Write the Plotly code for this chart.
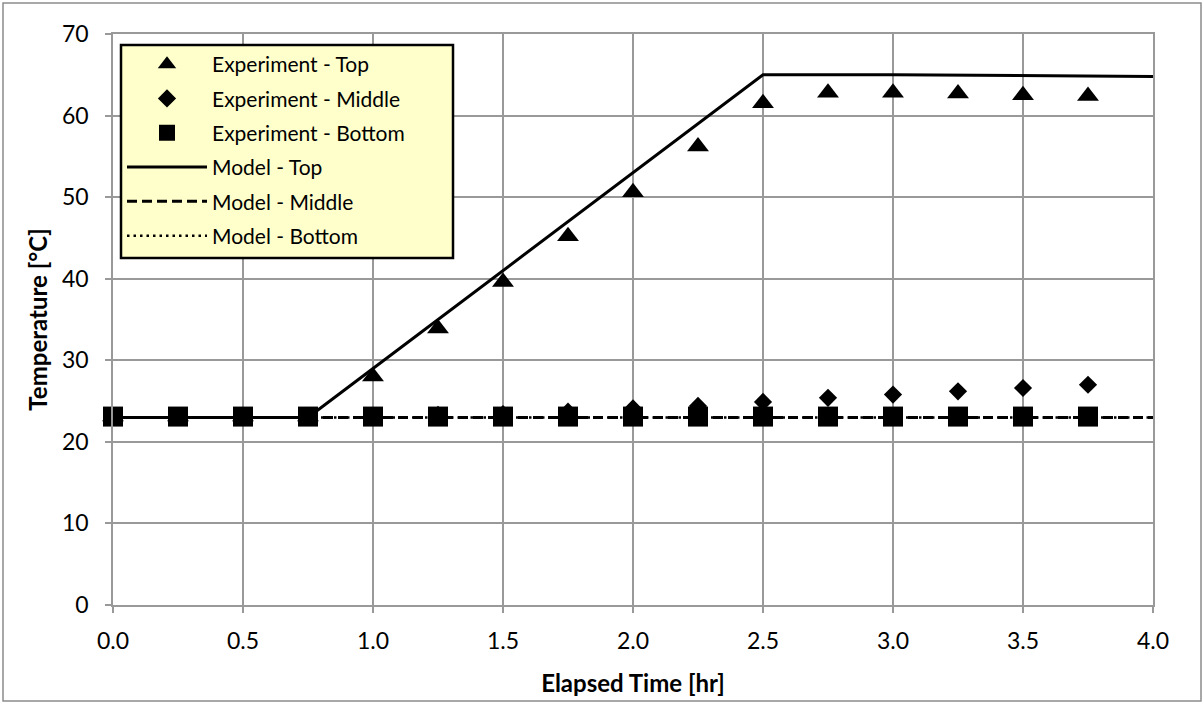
import plotly.graph_objects as go

# Elapsed time of each measurement [hr]
time_hr = [0.0, 0.25, 0.5, 0.75, 1.0, 1.25, 1.5, 1.75, 2.0, 2.25, 2.5, 2.75, 3.0, 3.25, 3.5, 3.75]

# Measured temperatures [°C]
exp_top = [23.1, 23.1, 23.1, 23.1, 28.0, 33.9, 39.6, 45.2, 50.6, 56.2, 61.5, 62.8, 62.8, 62.7, 62.5, 62.4]
exp_middle = [23.1, 23.1, 23.1, 23.1, 23.2, 23.3, 23.4, 23.7, 24.1, 24.4, 24.9, 25.4, 25.8, 26.2, 26.6, 27.0]
exp_bottom = [23.1, 23.1, 23.1, 23.1, 23.1, 23.1, 23.1, 23.1, 23.1, 23.1, 23.1, 23.1, 23.1, 23.1, 23.1, 23.1]

# Model predictions [°C]
model_time = [0.0, 0.75, 1.0, 1.5, 2.0, 2.5, 3.0, 3.5, 4.0]
model_top = [23.0, 23.0, 29.0, 41.0, 53.0, 65.0, 65.0, 64.9, 64.8]
model_middle = [23.0, 23.0, 23.0, 23.0, 23.0, 23.0, 23.0, 23.0, 23.0]
model_bottom = [23.0, 23.0, 23.0, 23.0, 23.0, 23.0, 23.0, 23.0, 23.0]

x_ticks = [0.0, 0.5, 1.0, 1.5, 2.0, 2.5, 3.0, 3.5, 4.0]
y_ticks = [0, 10, 20, 30, 40, 50, 60, 70]

FONT = "Lato"
fig = go.Figure()

# model curves (drawn beneath the markers)
fig.add_trace(go.Scatter(x=model_time, y=model_top, mode="lines", name="Model - Top",
                         line=dict(color="black", width=3), legendrank=4, legendgroup="g4"))
fig.add_trace(go.Scatter(x=model_time, y=model_middle, mode="lines", name="Model - Middle",
                         line=dict(color="black", width=3, dash="10px,5px"), legendrank=5, legendgroup="g5"))
fig.add_trace(go.Scatter(x=model_time, y=model_bottom, mode="lines", name="Model - Bottom",
                         line=dict(color="black", width=2.5, dash="2.5px,4px"), legendrank=6, legendgroup="g6"))

# measurements
fig.add_trace(go.Scatter(x=time_hr, y=exp_top, mode="markers", name="Experiment - Top",
                         marker=dict(symbol="triangle-up", size=19, color="black"), cliponaxis=False,
                         legendrank=1, legendgroup="g1"))
fig.add_trace(go.Scatter(x=time_hr, y=exp_middle, mode="markers", name="Experiment - Middle",
                         marker=dict(symbol="diamond", size=14, color="black"), cliponaxis=False,
                         legendrank=2, legendgroup="g2"))
fig.add_trace(go.Scatter(x=time_hr, y=exp_bottom, mode="markers", name="Experiment - Bottom",
                         marker=dict(symbol="square", size=20, color="black"), cliponaxis=False,
                         legendrank=3, legendgroup="g3"))

L, R, T, B = 113, 51, 34, 99
W, H = 1204, 704
pw, ph = W - L - R, H - T - B


def px_x(p):
    return (p - L) / pw


def px_y(p):
    return 1 - (p - T) / ph


axis_common = dict(showgrid=True, gridcolor="#999999", gridwidth=1.5,
                   ticks="outside", ticklen=6, tickcolor="#999999", tickwidth=1.5,
                   showline=True, linecolor="#999999", linewidth=1.5, mirror=True,
                   zeroline=False, tickfont=dict(family=FONT, size=23))

fig.update_layout(
    width=W, height=H,
    margin=dict(l=L, r=R, t=T, b=B),
    paper_bgcolor="white", plot_bgcolor="white",
    font=dict(family=FONT, size=21, color="black"),
    legend=dict(x=px_x(122), y=px_y(44), xanchor="left", yanchor="top",
                bgcolor="rgba(0,0,0,0)", borderwidth=0,
                font=dict(family=FONT, size=21, color="black"),
                traceorder="grouped", tracegroupgap=4, itemwidth=80),
    xaxis=dict(range=[0, 4], tickvals=x_ticks, ticktext=[f"{v:.1f}" for v in x_ticks],
               ticklabelstandoff=9,
               title=dict(text="<b>Elapsed Time [hr]</b>", font=dict(family=FONT, size=24), standoff=22),
               **axis_common),
    yaxis=dict(range=[0, 70], tickvals=y_ticks, ticklabelstandoff=12,
               title=dict(text="<b>Temperature [°C]</b>", font=dict(family=FONT, size=24), standoff=8),
               **axis_common),
    shapes=[
        # outer chart frame
        dict(type="rect", xref="paper", yref="paper",
             x0=px_x(3), x1=px_x(1201), y0=px_y(701), y1=px_y(3),
             line=dict(color="#8c8c8c", width=1.5), layer="below"),
        # legend panel
        dict(type="rect", xref="paper", yref="paper",
             x0=px_x(121), x1=px_x(453), y0=px_y(258), y1=px_y(45),
             fillcolor="#FFFFCC", line=dict(color="black", width=2.5), layer="above"),
    ],
)

fig.write_html("out.html")
